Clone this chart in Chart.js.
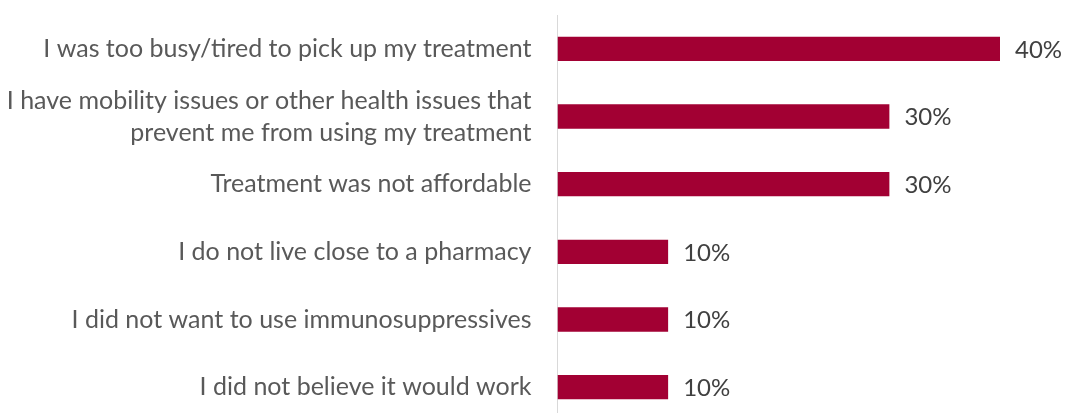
<!DOCTYPE html>
<html>
<head>
<meta charset="utf-8">
<script src="https://cdn.jsdelivr.net/npm/chart.js@4/dist/chart.umd.min.js"></script>
<style>
  html, body { margin: 0; padding: 0; background: #fff; }
  #wrap { width: 1065px; height: 413px; overflow: hidden; }
</style>
</head>
<body>
<div id="wrap"><canvas id="mycanvas" width="1065" height="421"></canvas></div>
<script>
var reasons = [
	"I was too busy/tired to pick up my treatment",
	["I have mobility issues or other health issues that", "prevent me from using my treatment"],
	"Treatment was not affordable",
	"I do not live close to a pharmacy",
	"I did not want to use immunosuppressives",
	"I did not believe it would work"
];
var share = [40, 30, 30, 10, 10, 10];

var FONT = "Lato, 'Open Sans', sans-serif";

// draws the "40%" style labels just right of each bar
var valueLabels = {
	id: 'valueLabels',
	afterDatasetsDraw: function(chart) {
		var ctx = chart.ctx;
		var meta = chart.getDatasetMeta(0);
		ctx.save();
		ctx.font = "24px " + FONT;
		ctx.fillStyle = '#404040';
		ctx.textAlign = 'left';
		ctx.textBaseline = 'middle';
		meta.data.forEach(function(bar, i) {
			ctx.fillText(share[i] + '%', bar.x + 15, bar.y + 1);
		});
		ctx.restore();
	}
};

var ctx = document.getElementById('mycanvas');

var barGraph = new Chart(ctx, {
	type: 'bar',
	data: {
		labels: reasons,
		datasets: [{
			data: share,
			backgroundColor: '#A20033',
			borderWidth: 0,
			barPercentage: 0.36,
			categoryPercentage: 1
		}]
	},
	options: {
		indexAxis: 'y',
		responsive: false,
		animation: false,
		events: [],
		layout: { padding: { top: 15, right: 65, bottom: 0, left: 0 } },
		plugins: {
			legend: { display: false },
			tooltip: { enabled: false }
		},
		scales: {
			x: {
				display: false,
				min: 0,
				max: 40
			},
			y: {
				afterFit: function(scale) {
					scale.width = 557.5;
					// labels sit in the middle of each band, no overhang needed
					scale.paddingTop = 0;
					scale.paddingBottom = 0;
				},
				grid: { display: false, drawTicks: false },
				border: { display: true, color: '#d9d9d9', width: 1 },
				ticks: {
					color: '#595959',
					padding: 26,
					font: { family: FONT, size: 25, lineHeight: 1.28 }
				}
			}
		}
	},
	plugins: [valueLabels]
});
</script>
</body>
</html>
